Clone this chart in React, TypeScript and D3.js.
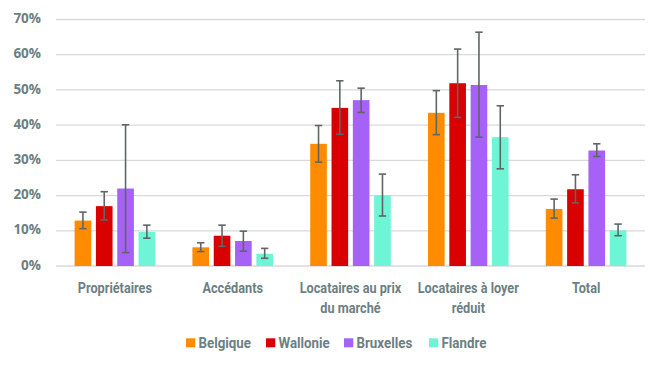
import React from "react";
import * as d3 from "d3";

const categories = [
  ["Propriétaires"],
  ["Accédants"],
  ["Locataires au prix", "du marché"],
  ["Locataires à loyer", "réduit"],
  ["Total"],
];
const regions = ["Belgique", "Wallonie", "Bruxelles", "Flandre"];
const colors = ["#FF8C00", "#D90000", "#A661F6", "#6EF5D6"];

// values per region, in %
const belgique = [12.9, 5.3, 34.7, 43.5, 16.2];
const wallonie = [17.0, 8.6, 44.9, 51.9, 21.8];
const bruxelles = [22.0, 7.1, 47.1, 51.4, 32.8];
const flandre = [9.7, 3.5, 20.1, 36.6, 10.1];

// error bar [low, high]
const belgiqueErr = [[10.6, 15.3], [4.1, 6.6], [29.5, 39.9], [37.3, 49.8], [13.6, 19.0]];
const wallonieErr = [[13.1, 21.1], [5.6, 11.6], [37.4, 52.6], [42.2, 61.6], [17.9, 25.9]];
const bruxellesErr = [[3.8, 40.1], [4.2, 9.9], [43.6, 50.5], [36.6, 66.4], [31.1, 34.7]];
const flandreErr = [[7.9, 11.6], [2.2, 5.0], [14.2, 26.1], [27.6, 45.5], [8.6, 11.9]];

const yTicks = [0, 10, 20, 30, 40, 50, 60, 70];

const series = [belgique, wallonie, bruxelles, flandre];
const errors = [belgiqueErr, wallonieErr, bruxellesErr, flandreErr];

const width = 662,
  height = 372;
const textColor = "#6C7F84";
const narrow = "Roboto, sans-serif";
const squeeze = 0.82; // condensed look

export default function App() {
  const catKeys = categories.map((c) => c.join(" "));
  const x0 = d3.scaleBand().domain(catKeys).range([56, 645]).paddingInner(0.316).paddingOuter(0.158);
  const x1 = d3.scaleBand().domain(regions).range([0, x0.bandwidth()]).paddingInner(0.22).paddingOuter(0);
  const y = d3.scaleLinear().domain([0, 70]).range([266, 19.5]);

  const legendX = [186, 266, 344, 429];

  return (
    <svg width={width} height={height} style={{ position: "absolute", left: 0, top: 0, background: "#fff" }}>
      {yTicks.map((t) => (
        <g key={t}>
          <line x1={56} x2={645} y1={y(t)} y2={y(t)} stroke="#D9D9D9" strokeWidth={1.3} />
          <text
            x={41}
            y={y(t)}
            textAnchor="end"
            dominantBaseline="middle"
            fontFamily="'Open Sans', sans-serif"
            fontWeight="bold"
            fontSize={13.5}
            fill={textColor}
          >
            {t}%
          </text>
        </g>
      ))}
      {catKeys.map((c, ci) => (
        <g key={c} transform={`translate(${x0(c)},0)`}>
          {regions.map((r, ri) => {
            const v = series[ri][ci];
            const [lo, hi] = errors[ri][ci];
            const bx = x1(r)!;
            const cx = bx + x1.bandwidth() / 2;
            return (
              <g key={r}>
                <rect x={bx} y={y(v)} width={x1.bandwidth()} height={y(0) - y(v)} fill={colors[ri]} />
                <g stroke="#5F6666" strokeWidth={1.6}>
                  <line x1={cx} x2={cx} y1={y(lo)} y2={y(hi)} />
                  <line x1={cx - 3.7} x2={cx + 3.7} y1={y(lo)} y2={y(lo)} />
                  <line x1={cx - 3.7} x2={cx + 3.7} y1={y(hi)} y2={y(hi)} />
                </g>
              </g>
            );
          })}
          {categories[ci].map((line, li) => (
            <text
              key={li}
              transform={`translate(${x0.bandwidth() / 2},${293 + li * 20}) scale(${squeeze},1)`}
              textAnchor="middle"
              fontFamily={narrow}
              fontWeight="bold"
              fontSize={15.5}
              fill={textColor}
            >
              {line}
            </text>
          ))}
        </g>
      ))}
      {regions.map((r, i) => (
        <g key={r} transform={`translate(${legendX[i]},338.3)`}>
          <rect x={0} y={0} width={9.3} height={9} fill={colors[i]} />
          <text
            transform={`translate(12.5,9.8) scale(0.86,1)`}
            fontFamily={narrow}
            fontWeight="bold"
            fontSize={15.5}
            fill={textColor}
          >
            {r}
          </text>
        </g>
      ))}
    </svg>
  );
}
